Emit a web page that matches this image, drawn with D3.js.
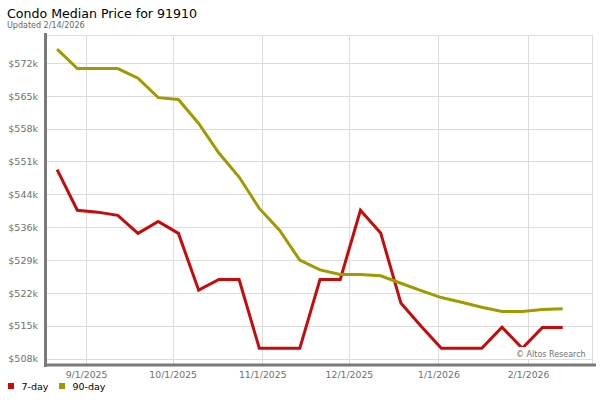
<!DOCTYPE html>
<html>
<head>
<meta charset="utf-8">
<script src="https://cdn.jsdelivr.net/npm/d3@7"></script>
<style>
  html, body { margin: 0; padding: 0; background: #fff; }
  svg { display: block; font-family: "DejaVu Sans", Verdana, sans-serif; }
</style>
</head>
<body>
<svg id="chart" width="600" height="400"></svg>
<script>
// ---- data ----
const startDate = "2025-08-22";          // first weekly observation
const weeks = 26;                         // weekly points through 2026-02-13
const sevenDay = [548.9, 540.1, 539.7, 539.0, 535.1, 537.7, 535.1, 522.8, 525.1, 525.1,
                  510.2, 510.2, 510.2, 525.1, 525.1, 540.1, 535.2, 520.0, 515.0, 510.2,
                  510.2, 510.2, 514.8, 510.2, 514.7, 514.7];
const ninetyDay = [575.0, 570.8, 570.8, 570.8, 568.7, 564.5, 564.1, 558.9, 552.5, 547.3,
                   540.5, 535.8, 529.3, 527.2, 526.2, 526.2, 525.9, 524.3, 522.7, 521.2,
                   520.2, 519.1, 518.2, 518.2, 518.6, 518.8];
const yTickValues = [508, 515.11, 522.22, 529.33, 536.44, 543.56, 550.67, 557.78, 564.89, 572];
const xTickDates = ["2025-09-01", "2025-10-01", "2025-11-01", "2025-12-01", "2026-01-01", "2026-02-01"];
const xTickLabels = ["9/1/2025", "10/1/2025", "11/1/2025", "12/1/2025", "1/1/2026", "2/1/2026"];
const seriesNames = ["7-day", "90-day"];
const seriesColors = ["#c80a0a", "#a09a00"];

// ---- layout ----
const svg = d3.select("#chart");
const plot = { left: 45, right: 594, top: 35, bottom: 365 };

const parse = d3.utcParse("%Y-%m-%d");
const dates = d3.range(weeks).map(i => d3.utcDay.offset(parse(startDate), i * 7));

const x = d3.scaleUtc()
  .domain([parse("2025-09-01"), parse("2026-02-01")])
  .range([86, 528]);
const y = d3.scaleLinear()
  .domain([508, 572])
  .range([358.5, 63]);

// plot background
svg.append("rect")
  .attr("x", plot.left).attr("y", plot.top)
  .attr("width", plot.right - plot.left).attr("height", plot.bottom - plot.top)
  .attr("fill", "#fff");

// horizontal gridlines
const gy = svg.append("g").attr("class", "grid-y");
gy.selectAll("line").data(yTickValues).join("line")
  .attr("x1", plot.left).attr("x2", plot.right - 1)
  .attr("y1", d => Math.round(y(d)) + 0.5).attr("y2", d => Math.round(y(d)) + 0.5)
  .attr("stroke", "#dcdcdc").attr("stroke-width", 1);
// top border
svg.append("line")
  .attr("x1", plot.left).attr("x2", plot.right - 1)
  .attr("y1", plot.top + 0.5).attr("y2", plot.top + 0.5)
  .attr("stroke", "#dcdcdc");
// right border
svg.append("line")
  .attr("x1", plot.right - 1.5).attr("x2", plot.right - 1.5)
  .attr("y1", plot.top).attr("y2", plot.bottom)
  .attr("stroke", "#dcdcdc");

// vertical gridlines
const xTicks = xTickDates.map(parse);
svg.append("g").selectAll("line").data(xTicks).join("line")
  .attr("x1", d => Math.round(x(d)) + 0.5).attr("x2", d => Math.round(x(d)) + 0.5)
  .attr("y1", plot.top).attr("y2", plot.bottom)
  .attr("stroke", "#dcdcdc");

// axes (labels only, via d3 axis)
const yAxis = d3.axisLeft(y)
  .tickValues(yTickValues)
  .tickSize(0).tickPadding(0)
  .tickFormat(d => "$" + Math.round(d) + "k");
const gya = svg.append("g").attr("transform", "translate(38,0)").call(yAxis);
gya.select(".domain").remove();
gya.selectAll("text").attr("fill", "#707070").attr("font-size", "9.5px")
  .attr("font-family", "DejaVu Sans, sans-serif").attr("dy", "0.35em");

const xAxis = d3.axisBottom(x)
  .tickValues(xTicks)
  .tickSize(0).tickPadding(0)
  .tickFormat((d, i) => xTickLabels[i]);
const gxa = svg.append("g").attr("transform", "translate(0,371)").call(xAxis);
gxa.select(".domain").remove();
gxa.selectAll("text").attr("fill", "#707070").attr("font-size", "9.3px")
  .attr("font-family", "DejaVu Sans, sans-serif").attr("dy", "0.71em");

// lines
const line = d3.line()
  .x((d, i) => x(dates[i]))
  .y(d => y(d));
[sevenDay, ninetyDay].forEach((s, k) => {
  svg.append("path")
    .datum(s)
    .attr("d", line)
    .attr("fill", "none")
    .attr("stroke", seriesColors[k])
    .attr("stroke-width", 3)
    .attr("stroke-linejoin", "miter")
    .attr("stroke-linecap", "butt");
});

// copyright label
const cg = svg.append("g");
cg.append("rect").attr("x", 514).attr("y", 347).attr("width", 76).attr("height", 12).attr("fill", "#fff");
cg.append("text").attr("x", 516).attr("y", 357)
  .attr("font-size", "8px").attr("fill", "#707070")
  .text("© Altos Research");

// axis bars
svg.append("rect").attr("x", 44).attr("y", 33).attr("width", 3).attr("height", 334).attr("fill", "#7a7a7a");
svg.append("rect").attr("x", 44).attr("y", 363.5).attr("width", 552).attr("height", 3).attr("fill", "#7a7a7a");

// title
svg.append("text").attr("x", 7).attr("y", 18)
  .attr("font-size", "12.6px").attr("fill", "#000")
  .text("Condo Median Price for 91910");
svg.append("text").attr("x", 7).attr("y", 28)
  .attr("font-size", "8px").attr("fill", "#666")
  .text("Updated 2/14/2026");

// legend
const lg = svg.append("g");
const legendX = [8, 59];
seriesNames.forEach((n, k) => {
  lg.append("rect").attr("x", legendX[k]).attr("y", 383).attr("width", 6).attr("height", 6)
    .attr("fill", seriesColors[k]);
  lg.append("text").attr("x", legendX[k] + 13.5).attr("y", 390)
    .attr("font-size", "9.5px").attr("fill", "#000").text(n);
});
</script>
</body>
</html>
